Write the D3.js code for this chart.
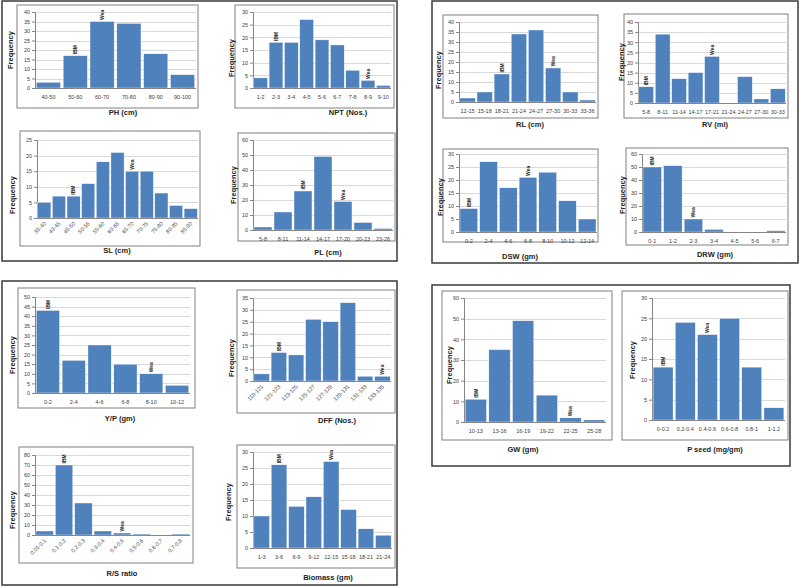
<!DOCTYPE html>
<html><head><meta charset="utf-8">
<script src="https://cdn.jsdelivr.net/npm/d3@7"></script>
<style>
html,body{margin:0;padding:0;background:#fff;}
svg{display:block;}
text{font-family:"Liberation Sans",Arial,sans-serif;}
</style></head>
<body>
<svg id="c" width="800" height="587"></svg>
<script>
// ---------- DATA ----------
const phCats = ["40-50","50-60","60-70","70-80","80-90","90-100"];
const phVals = [3,17,35,34,18,7];
const nptCats = ["1-2","2-3","3-4","4-5","5-6","6-7","7-8","8-9","9-10"];
const nptVals = [4,18,18,27,19,17,7,3,1];
const slCats = ["35-40","40-45","45-50","50-55","55-60","60-65","65-70","70-75","75-80","80-85","85-90"];
const slVals = [5,7,7,11,18,21,15,15,8,4,3];
const plCats = ["5-8","8-11","11-14","14-17","17-20","20-23","23-26"];
const plVals = [2,12,26,49,19,5,1];
const rlCats = ["12-15","15-18","18-21","21-24","24-27","27-30","30-33","33-36"];
const rlVals = [2,5,14,34,36,17,5,1];
const rvCats = ["5-8","8-11","11-14","14-17","17-21","21-24","24-27","27-30","30-33"];
const rvVals = [8,34,12,15,23,0,13,2,7];
const dswCats = ["0-2","2-4","4-6","6-8","8-10","10-12","12-14"];
const dswVals = [9,27,17,21,23,12,5];
const drwCats = ["0-1","1-2","2-3","3-4","4-5","5-6","6-7"];
const drwVals = [50,51,10,2,0,0,1];
const ypCats = ["0-2","2-4","4-6","6-8","8-10","10-12"];
const ypVals = [43,17,25,15,10,4];
const dffCats = ["119-121","121-123","123-125","125-127","127-129","129-131","131-133","133-135"];
const dffVals = [3,12,11,26,25,33,2,2];
const rsCats = ["0.01-0.1","0.1-0.2","0.2-0.3","0.3-0.4","0.4-0.5","0.5-0.6","0.6-0.7","0.7-0.8"];
const rsVals = [4,70,32,4,2,1,0,1];
const bioCats = ["1-3","3-6","6-9","9-12","12-15","15-18","18-21","21-24"];
const bioVals = [10,26,13,16,27,12,6,4];
const gwCats = ["10-13","13-16","16-19","19-22","22-25","25-28"];
const gwVals = [11,35,49,13,2,1];
const psCats = ["0-0.2","0.2-0.4","0.4-0.6","0.6-0.8","0.8-1","1-1.2"];
const psVals = [13,24,21,25,13,3];

const xTitles = ["PH (cm)","NPT (Nos.)","SL (cm)","PL (cm)","RL (cm)","RV (ml)","DSW (gm)","DRW (gm)",
                 "Y/P (gm)","DFF (Nos.)","R/S ratio","Biomass (gm)","GW (gm)","P seed (mg/gm)"];
const yMaxes = [40,30,25,60,40,40,30,60,50,35,80,30,60,30];
const ySteps = [5,5,5,10,5,5,5,10,5,5,10,5,10,5];
const ibmIdx = [1,1,2,2,2,0,0,0,0,1,1,1,0,0];
const weaIdx = [2,7,6,4,5,4,3,2,4,7,4,4,4,2];
const markerLabels = ["IBM","Wea"];

const catsList = [phCats,nptCats,slCats,plCats,rlCats,rvCats,dswCats,drwCats,ypCats,dffCats,rsCats,bioCats,gwCats,psCats];
const valsList = [phVals,nptVals,slVals,plVals,rlVals,rvVals,dswVals,drwVals,ypVals,dffVals,rsVals,bioVals,gwVals,psVals];

// ---------- LAYOUT ----------
const layouts = [
  {frame:[17,5,181,103], plot:[35,196,12,88], title:[123,115], freq:[10,50], rot:false},
  {frame:[235,5,159,103], plot:[253,391,12,88], title:[348,115], freq:[231,58], rot:false},
  {frame:[20,131,180,115], plot:[37,198,140,218], title:[117,253], freq:[12,195], rot:true},
  {frame:[238,133,157,108], plot:[253,393,140,230], title:[328,255], freq:[233,185], rot:false},
  {frame:[443,15,155,103], plot:[459,596,22,102], title:[530,127], freq:[438,70], rot:false},
  {frame:[624,14,164,104], plot:[638,786,22,103], title:[715,127], freq:[621,62], rot:false},
  {frame:[443,149,155,93], plot:[459,597,154,232], title:[520,259], freq:[440,197], rot:false},
  {frame:[626,148,162,97], plot:[642,786,154,232], title:[715,257], freq:[622,195], rot:false},
  {frame:[18,288,177,120], plot:[35,190,297,393], title:[120,421], freq:[12,355], rot:false},
  {frame:[237,290,158,123], plot:[253,391,298,381], title:[337,423], freq:[231,358], rot:true},
  {frame:[19,447,174,116], plot:[35,190,455,535], title:[122,576], freq:[12,510], rot:true},
  {frame:[237,445,158,123], plot:[253,392,452,548], title:[328,580], freq:[228,502], rot:false},
  {frame:[442,291,170,149], plot:[464,606,298,422], title:[523,452], freq:[449,365], rot:false},
  {frame:[622,291,166,149], plot:[652,785,298,420], title:[715,452], freq:[632,360], rot:false}
];
const groupBoxes = [[2,1,395,260],[432,1,366,262],[2,281,395,304],[432,285,358,181]];

const svg = d3.select("#c");
const barColor = "#4f81bd";

groupBoxes.forEach(b=>{
  svg.append("rect").attr("x",b[0]).attr("y",b[1]).attr("width",b[2]).attr("height",b[3])
    .attr("fill","none").attr("stroke","#3a3a3a").attr("stroke-width",1.5);
});

layouts.forEach((L,i)=>{
  const cats = catsList[i], vals = valsList[i];
  const g = svg.append("g");
  g.append("rect").attr("x",L.frame[0]).attr("y",L.frame[1]).attr("width",L.frame[2]).attr("height",L.frame[3])
    .attr("fill","#fff").attr("stroke","#808080").attr("stroke-width",1);
  const [x0,x1,yT,yB] = L.plot;
  const x = d3.scaleBand().domain(cats).range([x0,x1]).paddingInner(0.1).paddingOuter(0.05);
  const y = d3.scaleLinear().domain([0,yMaxes[i]]).range([yB,yT]);
  const ticks = d3.range(0, yMaxes[i]+0.001, ySteps[i]);
  g.selectAll(".grid").data(ticks.filter(t=>t>0)).enter().append("line")
    .attr("x1",x0).attr("x2",x1).attr("y1",d=>Math.round(y(d))+0.5).attr("y2",d=>Math.round(y(d))+0.5)
    .attr("stroke","#d9d9d9").attr("stroke-width",1);
  const ya = g.append("g").attr("transform",`translate(${x0},0)`)
    .call(d3.axisLeft(y).tickValues(ticks).tickSize(3).tickFormat(d3.format("d")));
  ya.select(".domain").attr("stroke","#868686");
  ya.selectAll(".tick line").attr("stroke","#868686");
  ya.selectAll("text").attr("font-size",5.5).attr("fill","#404040").attr("x",-5);
  g.selectAll(".bar").data(cats).enter().append("rect")
    .attr("x",d=>x(d)).attr("width",x.bandwidth())
    .attr("y",(d,j)=>y(vals[j])).attr("height",(d,j)=>yB-y(vals[j]))
    .attr("fill",barColor).attr("stroke","#fff").attr("stroke-width",0.4);
  g.append("line").attr("x1",x0).attr("x2",x1).attr("y1",yB+0.5).attr("y2",yB+0.5).attr("stroke","#868686");
  const lab = g.selectAll(".xl").data(cats).enter().append("text")
    .attr("font-size",5.5).attr("fill","#404040").text(d=>d);
  if (L.rot) {
    lab.attr("text-anchor","end")
      .attr("transform",d=>`translate(${x(d)+x.bandwidth()/2+2},${yB+6}) rotate(-45)`);
  } else {
    lab.attr("text-anchor","middle").attr("x",d=>x(d)+x.bandwidth()/2).attr("y",yB+11);
  }
  [ibmIdx[i],weaIdx[i]].forEach((k,m)=>{
    const cx = x(cats[k])+x.bandwidth()/2;
    const top = y(vals[k]);
    g.append("text").attr("font-size",5).attr("font-weight","bold").attr("fill","#222")
      .attr("text-anchor","start")
      .attr("transform",`translate(${cx+1.8},${top-1.5}) rotate(-90)`).text(markerLabels[m]);
  });
  g.append("text").attr("x",L.title[0]).attr("y",L.title[1]).attr("text-anchor","middle")
    .attr("font-size",7.5).attr("font-weight","bold").attr("fill","#222").text(xTitles[i]);
  g.append("text").attr("transform",`translate(${L.freq[0]+3},${L.freq[1]}) rotate(-90)`)
    .attr("text-anchor","middle").attr("font-size",7.5).attr("font-weight","bold").attr("fill","#222").text("Frequency");
});
</script>
</body></html>
